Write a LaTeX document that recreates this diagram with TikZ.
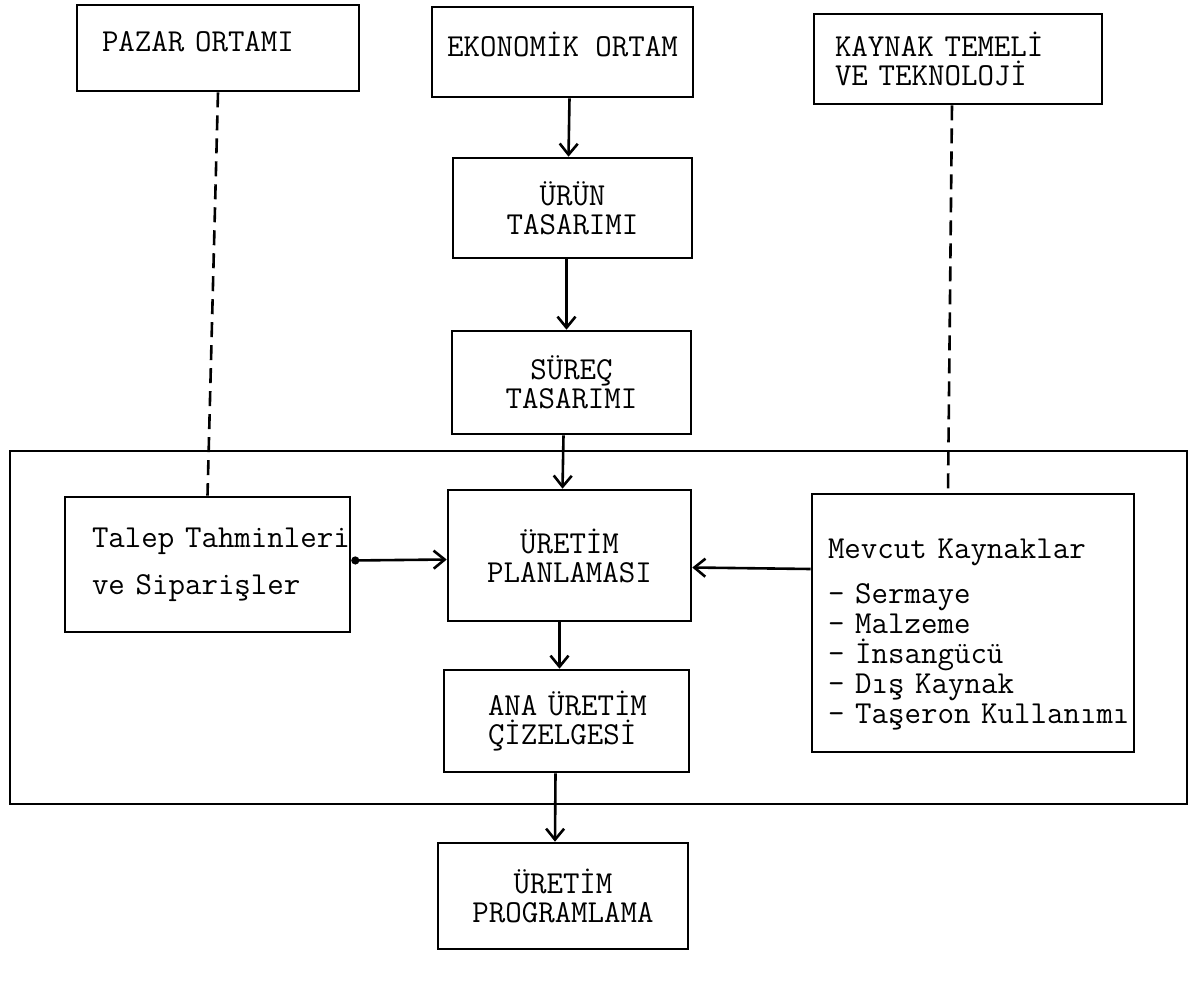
\documentclass[tikz,border=0pt]{standalone}
\usepackage{fontspec}
\usetikzlibrary{arrows.meta,calc}
\begin{document}
\begin{tikzpicture}[x=0.5pt,y=-0.5pt,
  every node/.style={font=\ttfamily\fontsize{16pt}{14.5pt}\selectfont},
  box/.style={draw,line width=1.3pt,rectangle,inner sep=0pt,align=center},
  link/.style={line width=1.3pt,-{Straight Barb[length=5.5pt,width=9pt]}},
  dashlink/.style={line width=1.3pt,dash pattern=on 7.5pt off 4pt},
]
\useasboundingbox[fill=white] (0,0) rectangle (1196,985);

% outer frame
\node[draw,line width=1.3pt,inner sep=0pt,minimum width=588.5pt,minimum height=176.5pt] (frame) at (598.5,627.5) {};

% top row
\node[box,align=left,text width=116pt,inner xsep=12.5pt,minimum width=141pt,minimum height=43pt,text height=11pt,text depth=8pt] (pazar) at (218,48) {PAZAR ORTAMI};
\node[box,minimum width=130.5pt,minimum height=45pt,text height=11pt,text depth=7pt] (ekonomik) at (562.5,52) {EKONOMİK ORTAM};
\node[box,align=left,text width=123pt,inner xsep=10.5pt,minimum width=144pt,minimum height=45pt] (kaynak) at (958,59) {\mbox{KAYNAK TEMELİ}\\\mbox{VE TEKNOLOJİ}};

% central column
\node[box,minimum width=119.5pt,minimum height=50pt] (urun) at (572.5,208) {ÜRÜN\\TASARIMI};
\node[box,minimum width=119.5pt,minimum height=51.5pt] (surec) at (571.5,382.5) {SÜREÇ\\TASARIMI};
\node[box,minimum width=121.5pt,minimum height=65.5pt] (uretim) at (569.5,555.5) {ÜRETİM\\PLANLAMASI};
\node[box,align=left,text width=78.5pt,inner xsep=22pt,minimum width=122.5pt,minimum height=51pt] (ana) at (566.5,721) {\mbox{ANA ÜRETİM}\\ÇİZELGESİ};
\node[box,minimum width=125pt,minimum height=53pt] (prog) at (563,896) {ÜRETİM\\PROGRAMLAMA};

% side boxes
\node[box,align=left,text width=115.5pt,inner xsep=13.5pt,minimum width=142.5pt,minimum height=67.5pt] (talep) at (207.5,564.5) {\mbox{Talep Tahminleri}\\[9pt]\mbox{ve Siparişler}};
\node[box,align=left,text width=145pt,inner xsep=8pt,minimum width=161pt,minimum height=129pt,
  font=\ttfamily\fontsize{16pt}{15pt}\selectfont] (mevcut) at (973,623)
  {\rule{0pt}{21pt}\mbox{Mevcut Kaynaklar}\\[7.5pt]- Sermaye\\- Malzeme\\- İnsangücü\\\mbox{- Dış Kaynak}\\\mbox{- Taşeron Kullanımı}};

% connectors
\draw[dashlink] (pazar.south) -- (talep.north);
\draw[dashlink] ($(kaynak.south)+(-6,0)$) -- ($(mevcut.north)+(-25,0)$);
\draw[link] ($(ekonomik.south)+(7,0)$) -- ($(urun.north)+(-4,0)$);
\draw[link] ($(urun.south)+(-6,0)$) -- ($(surec.north)+(-5,0)$);
\draw[link] ($(surec.south)+(-8,0)$) -- ($(uretim.north)+(-7,0)$);
\draw[link] ($(uretim.south)+(-10,0)$) -- ($(ana.north)+(-7,0)$);
\draw[link] ($(ana.south)+(-11,0)$) -- ($(prog.north)+(-8,0)$);
\draw[line width=1.3pt,{Circle[length=4pt]}-{Straight Barb[length=5.5pt,width=9pt]}] ($(talep.east)+(0,-4)$) -- ($(uretim.west)+(0,4)$);
\draw[link] ($(mevcut.west)+(0,-54)$) -- ($(uretim.east)+(0,12)$);
\end{tikzpicture}
\end{document}
